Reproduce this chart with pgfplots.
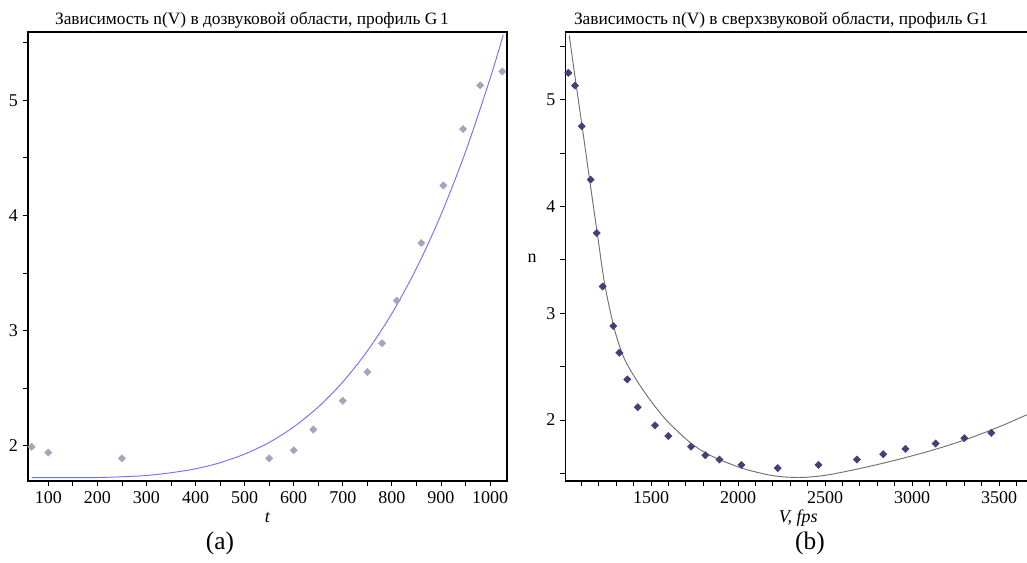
\documentclass[border=0pt]{standalone}
\usepackage{fontspec}
\setmainfont{Liberation Serif}
\usepackage{pgfplots}
\pgfplotsset{compat=1.18}
\definecolor{lline}{HTML}{7070FF}
\definecolor{lmark}{HTML}{A4A4BC}
\definecolor{rmark}{HTML}{40407A}
\definecolor{rline}{HTML}{707070}
\pgfplotsset{
  mystyle/.style={
    scale only axis,
    anchor=south west,
    tick align=outside,
    tick pos=left,
    major tick length=4pt,
    minor tick length=4pt,
    every tick/.style={black, line width=0.6pt},
    axis line style={black, line width=0.9pt},
    tick label style={font=\fontsize{13.5}{15}\selectfont},
    /pgf/number format/assume math mode=true,
    /pgf/number format/1000 sep={},
    clip=true,
  }
}
\begin{document}
\begin{tikzpicture}
\useasboundingbox (0,0) rectangle (770.25pt,421.5pt);
% left
\begin{axis}[mystyle,
  at={(21pt,60.75pt)}, width=359.25pt, height=336.75pt,
  xmin=58.6, xmax=1034.6, ymin=1.693, ymax=5.593,
  xtick={100,200,...,1000}, minor xtick={150,250,...,950},
  ytick={2,3,4,5}, minor ytick={2.5,3.5,4.5,5.5},
  xlabel={\textit{t}},
  xlabel style={at={(axis description cs:0.5,-0.082)}, anchor=center, font=\fontsize{13.5}{15}\selectfont},
]
\addplot[lline, line width=0.7pt, smooth, tension=0.5] coordinates {
(66,1.722) (165,1.722) (200,1.723) (250,1.730) (300,1.741) (350,1.765) (400,1.799)
(450,1.852) (500,1.927) (550,2.028) (600,2.163) (650,2.336) (700,2.553)
(750,2.822) (800,3.148) (850,3.540) (900,4.005) (950,4.552) (1000,5.187) (1027,5.57)
};
\addplot[only marks, mark=square*, mark size=1.9pt, mark options={rotate=45, draw=lmark, fill=lmark}] coordinates {
(66,1.99) (100,1.94) (250,1.89) (550,1.89) (600,1.96) (640,2.14) (700,2.39)
(750,2.64) (780,2.89) (810,3.26) (860,3.76) (905,4.26) (945,4.75) (980,5.13) (1025,5.25)
};
\end{axis}
% right
\begin{axis}[mystyle,
  at={(423.98pt,60.75pt)}, width=351.45pt, height=336.75pt,
  xmin=1007.5, xmax=3700, ymin=1.429, ymax=5.632,
  xtick={1500,2000,...,3500}, minor xtick={1100,1200,...,3600},
  ytick={2,3,4,5}, minor ytick={1.5,2.5,3.5,4.5,5.5},
  xlabel={\textit{V, fps}},
  xlabel style={at={(axis description cs:0.497,-0.082)}, anchor=center, font=\fontsize{13.5}{15}\selectfont},
  ylabel={n},
  ylabel style={at={(axis description cs:-0.071,0.497)}, anchor=center, rotate=-90, font=\fontsize{13.5}{15}\selectfont},
]
\addplot[rline, line width=0.7pt, smooth, tension=0.5] coordinates {
(1030,5.60) (1060,5.25) (1104,4.75) (1147,4.25) (1191,3.75) (1234,3.27)
(1290,2.85) (1345,2.58) (1418,2.37) (1494,2.19) (1590,1.995) (1724,1.79)
(1839,1.67) (2011,1.555) (2164,1.49) (2260,1.468) (2356,1.462) (2450,1.472)
(2548,1.495) (2739,1.56) (2931,1.635) (3122,1.72) (3314,1.82) (3506,1.94) (3661,2.05) (3700,2.075)
};
\addplot[only marks, mark=square*, mark size=1.9pt, mark options={rotate=45, draw=rmark, fill=rmark}] coordinates {
(1025,5.25) (1063,5.13) (1102,4.75) (1153,4.25) (1188,3.75) (1222,3.25)
(1283,2.88) (1318,2.63) (1364,2.38) (1424,2.12) (1523,1.95) (1599,1.85)
(1730,1.75) (1812,1.67) (1893,1.63) (2019,1.58) (2228,1.55) (2462,1.58)
(2683,1.63) (2834,1.68) (2962,1.73) (3135,1.78) (3300,1.83) (3455,1.88)
};
\end{axis}
\node[font=\fontsize{13}{15}\selectfont] at (189pt,406.5pt) {Зависимость n(V) в дозвуковой области, профиль G\,1};
\node[font=\fontsize{13}{15}\selectfont] at (585.75pt,406.5pt) {Зависимость n(V) в сверхзвуковой области, профиль G1};
\node[font=\fontsize{19}{21}\selectfont] at (165pt,14.25pt) {(a)};
\node[font=\fontsize{19}{21}\selectfont] at (607.5pt,14.25pt) {(b)};
\end{tikzpicture}
\end{document}
